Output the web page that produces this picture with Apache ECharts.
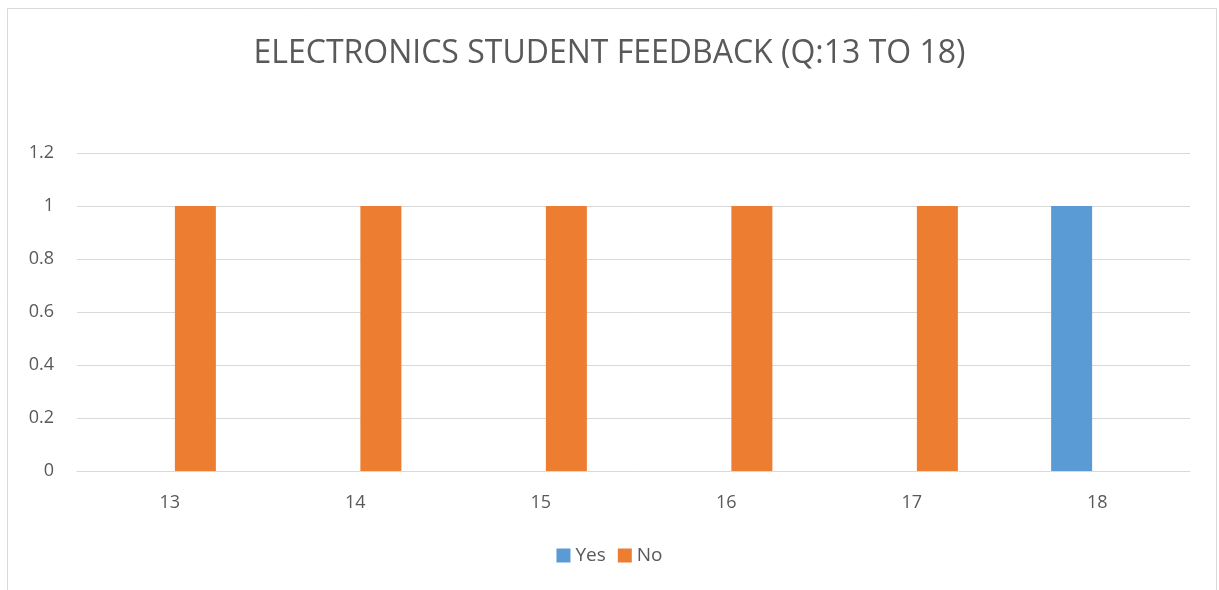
<!DOCTYPE html>
<html>
<head>
<meta charset="utf-8">
<script src="https://cdn.jsdelivr.net/npm/echarts@6/dist/echarts.min.js"></script>
<style>
  html, body { margin: 0; padding: 0; background: #fff; }
  #chart { width: 1219px; height: 590px; }
</style>
</head>
<body>
<div id="chart"></div>
<script>
// 问题编号和回答
const questions = ['13', '14', '15', '16', '17', '18']
const yesValues = [0, 0, 0, 0, 0, 1]
const noValues = [1, 1, 1, 1, 1, 0]

const chart = echarts.init(document.getElementById('chart'))
const textColor = '#595959'
const font = '"Open Sans", "Liberation Sans", sans-serif'

chart.setOption({
  animation: false,
  backgroundColor: '#fff',
  title: {
    text: 'ELECTRONICS STUDENT FEEDBACK (Q:13 TO 18)',
    left: 'center',
    top: 33,
    textStyle: { fontFamily: font, fontSize: 32, fontWeight: 'normal', color: textColor }
  },
  graphic: [{
    type: 'rect',
    shape: { x: 7.5, y: 8.5, width: 1209, height: 600 },
    style: { fill: 'none', stroke: '#d9d9d9', lineWidth: 1 },
    silent: true
  }],
  legend: {
    data: ['Yes', 'No'],
    bottom: 20,
    left: 'center',
    itemWidth: 14,
    itemHeight: 14,
    itemGap: 12,
    icon: 'rect',
    textStyle: { fontFamily: font, fontSize: 19, color: textColor }
  },
  grid: { left: 77, right: 29, top: 153, bottom: 119 },
  xAxis: {
    type: 'category',
    data: questions,
    axisLine: { lineStyle: { color: '#d9d9d9' } },
    axisTick: { show: false },
    axisLabel: { fontFamily: font, fontSize: 18, color: textColor, margin: 23 }
  },
  yAxis: {
    type: 'value',
    min: 0,
    max: 1.2,
    interval: 0.2,
    axisLine: { show: false },
    axisTick: { show: false },
    axisLabel: {
      fontFamily: font, fontSize: 18, color: textColor, margin: 23,
      formatter: v => String(Math.round(v * 10) / 10)
    },
    splitLine: { lineStyle: { color: '#d9d9d9', width: 1 } }
  },
  series: [
    {
      name: 'Yes',
      type: 'bar',
      data: yesValues,
      barWidth: 41,
      barGap: '25%',
      itemStyle: { color: '#5b9bd5' }
    },
    {
      name: 'No',
      type: 'bar',
      data: noValues,
      barWidth: 41,
      itemStyle: { color: '#ed7d31' }
    }
  ]
})
</script>
</body>
</html>
